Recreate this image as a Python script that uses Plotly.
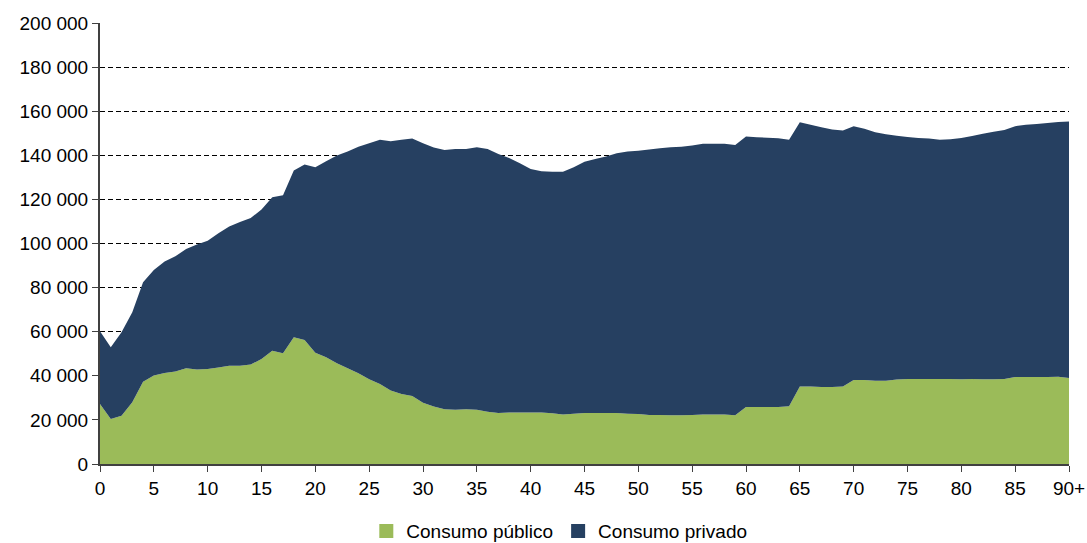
import plotly.graph_objects as go

ages = list(range(0, 91))
publico = [27200, 20400, 21900, 28000, 37300, 40100, 41300, 41900, 43400, 42900,
           43100, 43800, 44600, 44600, 45100, 47600, 51400, 50200, 57500, 56200,
           50500, 48400, 45700, 43400, 41100, 38400, 36300, 33300, 31800, 30800,
           27800, 26100, 24800, 24600, 24800, 24600, 23700, 23100, 23400, 23300,
           23300, 23400, 23000, 22400, 22800, 23100, 23100, 23100, 23100, 22800,
           22700, 22200, 22200, 22100, 22100, 22200, 22500, 22500, 22400, 22100,
           25900, 25800, 25900, 25900, 26200, 35100, 35100, 34900, 34900, 35100,
           38100, 38100, 37800, 37800, 38300, 38600, 38600, 38600, 38600, 38600,
           38400, 38600, 38400, 38400, 38600, 39500, 39500, 39500, 39500, 39600,
           39000]
privado = [33000, 32500, 37800, 40800, 45100, 47900, 50500, 52300, 54100, 56600,
           58200, 60800, 63100, 65200, 66500, 67800, 69600, 71700, 75600, 79600,
           84100, 88900, 94200, 98300, 102800, 107100, 110700, 113100, 115300, 116800,
           117700, 117400, 117600, 118300, 118100, 119000, 119200, 117500, 115400, 113100,
           110500, 109400, 109500, 110100, 111800, 114000, 115200, 116300, 117800, 118900,
           119400, 120400, 121000, 121500, 121800, 122200, 122700, 122700, 122800, 122600,
           122600, 122400, 122100, 121800, 120900, 119900, 118800, 117800, 116800, 116100,
           115100, 113900, 112600, 111700, 110600, 109700, 109300, 109000, 108500, 108700,
           109500, 110200, 111400, 112300, 112900, 113700, 114400, 114700, 115200, 115500,
           116300]

x_tickvals = list(range(0, 91, 5))
x_ticktext = [str(v) for v in range(0, 90, 5)] + ["90+"]
y_tickvals = list(range(0, 200001, 20000))
y_ticktext = ["0", "20 000", "40 000", "60 000", "80 000", "100 000", "120 000",
              "140 000", "160 000", "180 000", "200 000"]

GREEN = "#9BBB59"
NAVY = "#264061"
FONT = "Liberation Sans, Arial, sans-serif"

fig = go.Figure()
fig.add_trace(go.Scatter(x=ages, y=publico, stackgroup="one", mode="none",
                         fillcolor=GREEN, showlegend=False, name="Consumo público"))
fig.add_trace(go.Scatter(x=ages, y=privado, stackgroup="one", mode="none",
                         fillcolor=NAVY, showlegend=False, name="Consumo privado"))
# legend entries
fig.add_trace(go.Scatter(x=[None], y=[None], mode="markers", name="Consumo público",
                         marker=dict(symbol="square", size=14, color=GREEN)))
fig.add_trace(go.Scatter(x=[None], y=[None], mode="markers", name="Consumo privado",
                         marker=dict(symbol="square", size=14, color=NAVY)))

fig.update_layout(
    width=1087, height=543,
    margin=dict(l=100, r=18, t=23, b=79, autoexpand=False),
    plot_bgcolor="white", paper_bgcolor="white",
    font=dict(family=FONT, size=19, color="black"),
    legend=dict(orientation="h", x=0.474, xanchor="center", y=-0.152, yanchor="middle",
                font=dict(size=19), itemwidth=30, traceorder="normal",
                bgcolor="rgba(0,0,0,0)"),
    xaxis=dict(range=[0, 90], tickmode="array", tickvals=x_tickvals, ticktext=x_ticktext,
               showgrid=False, zeroline=False, showline=True, linecolor="#404040",
               linewidth=2, ticks="outside", ticklen=6, tickcolor="#404040",
               tickfont=dict(size=19)),
    yaxis=dict(range=[0, 200000], tickmode="array", tickvals=y_tickvals, ticktext=y_ticktext,
               showgrid=True, gridcolor="black", gridwidth=1, griddash="5px,3px",
               zeroline=False, showline=True, linecolor="#404040", linewidth=2,
               ticks="outside", ticklen=6, tickcolor="#404040", tickfont=dict(size=19)),
)

fig.write_html("out.html", config={"displayModeBar": False},
               post_script="document.body.style.margin='0';document.body.style.padding='0';"
                           "document.body.style.overflow='hidden';")
